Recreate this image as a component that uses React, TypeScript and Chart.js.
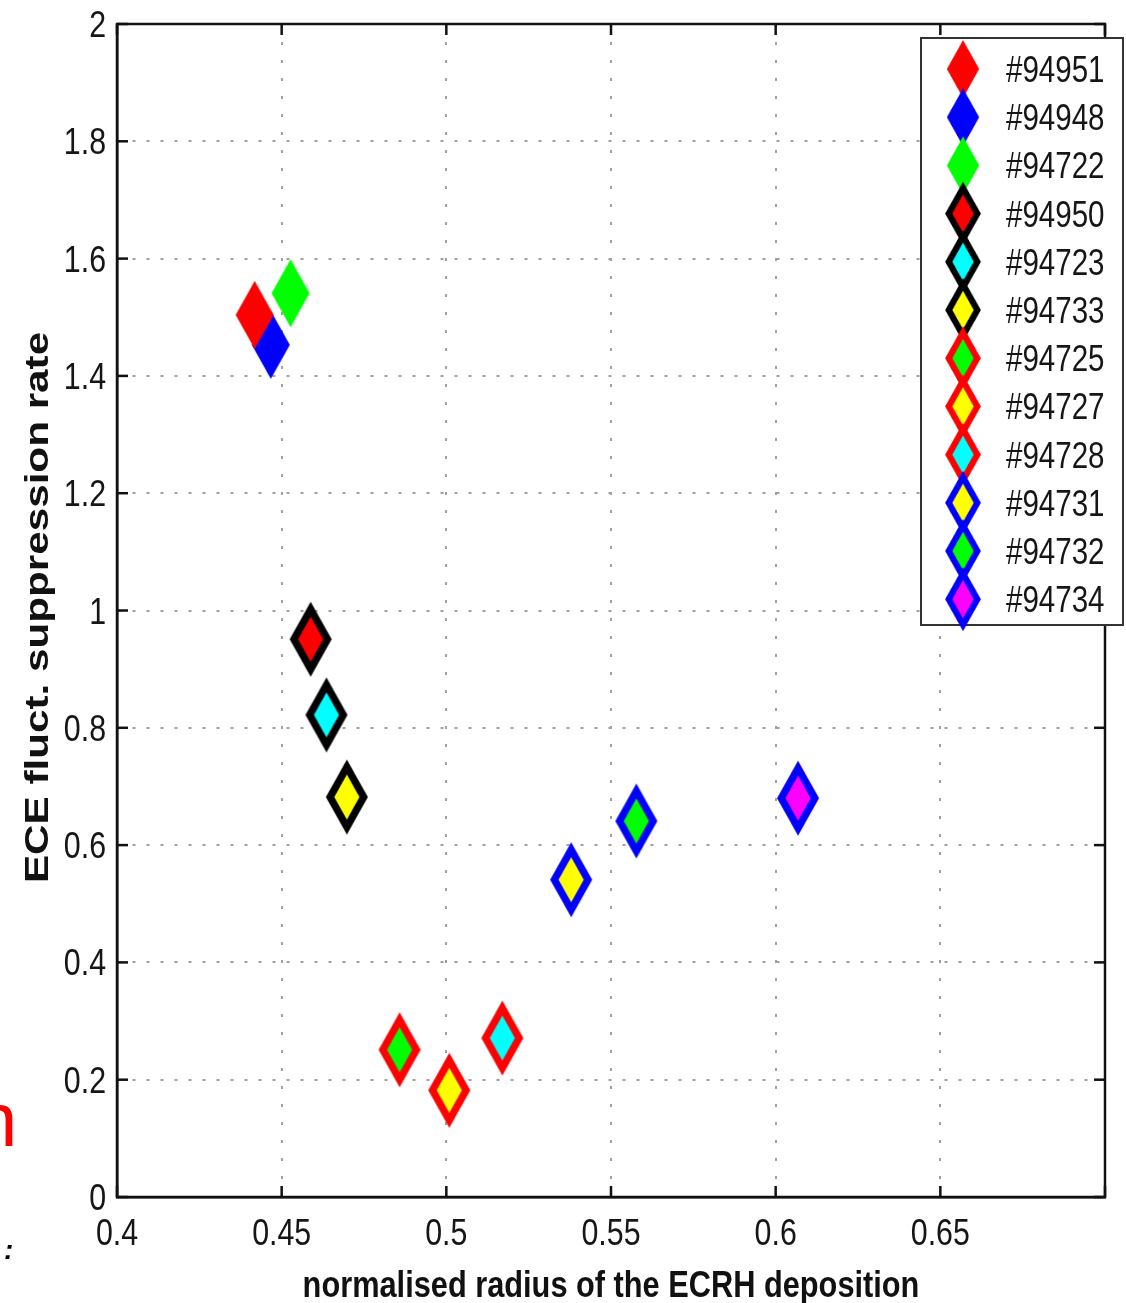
import { useEffect, useRef } from 'react';
import { Chart, registerables } from 'chart.js';

Chart.register(...registerables);

// ---------------- data ----------------
const shotLabels = ['#94951', '#94948', '#94722', '#94950', '#94723', '#94733', '#94725', '#94727', '#94728', '#94731', '#94732', '#94734'];
const radiusValues = [0.4418, 0.4467, 0.4527, 0.4588, 0.4636, 0.4698, 0.4858, 0.5009, 0.517, 0.5379, 0.5577, 0.6068];
const suppressionValues = [1.504, 1.453, 1.541, 0.951, 0.822, 0.682, 0.251, 0.182, 0.271, 0.541, 0.641, 0.68];
const markerFills = ['#ff0000', '#0000ff', '#00ff00', '#ff0000', '#00ffff', '#ffff00', '#00ff00', '#ffff00', '#00ffff', '#ffff00', '#00ff00', '#ff00ff'];
const markerEdges: (string | null)[] = [null, null, null, '#000000', '#000000', '#000000', '#ff0000', '#ff0000', '#ff0000', '#0000ff', '#0000ff', '#0000ff'];

const xTickValues = [0.4, 0.45, 0.5, 0.55, 0.6, 0.65, 0.7];
const xTickLabels = ['0.4', '0.45', '0.5', '0.55', '0.6', '0.65', ''];
const yTickValues = [0, 0.2, 0.4, 0.6, 0.8, 1, 1.2, 1.4, 1.6, 1.8, 2];
const yTickLabels = ['0', '0.2', '0.4', '0.6', '0.8', '1', '1.2', '1.4', '1.6', '1.8', '2'];

const xTitle = 'normalised radius of the ECRH deposition';
const yTitle = 'ECE fluct. suppression rate';

// ---------------- styles ----------------
const SANS = '"Liberation Sans", Arial, Helvetica, sans-serif';
const TEXT = '#161616';
const NARROW_SCALE = 0.82; // reference text is horizontally condensed

function makeDiamond(fill: string, edge: string | null): HTMLCanvasElement {
  const a = edge ? 21 : 19;
  const b = edge ? 37.5 : 34;
  const c = document.createElement('canvas');
  c.width = Math.ceil(2 * a + 2);
  c.height = Math.ceil(2 * b + 2);
  const ctx = c.getContext('2d')!;
  const cx = c.width / 2;
  const cy = c.height / 2;
  const path = (ha: number, hb: number) => {
    ctx.beginPath();
    ctx.moveTo(cx, cy - hb);
    ctx.lineTo(cx + ha, cy);
    ctx.lineTo(cx, cy + hb);
    ctx.lineTo(cx - ha, cy);
    ctx.closePath();
  };
  path(a, b);
  ctx.fillStyle = edge || fill;
  ctx.fill();
  if (edge) {
    path(a * 0.6, b * 0.6);
    ctx.fillStyle = fill;
    ctx.fill();
  }
  return c;
}

function drawScaledText(
  ctx: CanvasRenderingContext2D,
  text: string,
  x: number,
  y: number,
  font: string,
  align: CanvasTextAlign,
  sx: number,
  rotate = 0,
  color = TEXT,
) {
  ctx.save();
  ctx.translate(x, y);
  if (rotate) ctx.rotate(rotate);
  ctx.scale(sx, 1);
  ctx.font = font;
  ctx.fillStyle = color;
  ctx.textAlign = align;
  ctx.textBaseline = 'alphabetic';
  ctx.fillText(text, 0, 0);
  ctx.restore();
}

const framePlugin = {
  id: 'matlabFrame',
  afterDatasetsDraw(chart: any) {
    const { ctx, chartArea } = chart;
    const { left, right, top, bottom } = chartArea;
    const xs = chart.scales.x;
    const ys = chart.scales.y;
    ctx.save();
    ctx.strokeStyle = '#111';
    ctx.lineWidth = 2.5;
    ctx.strokeRect(left, top, right - left, bottom - top);
    const tl = 11;
    const line = (x1: number, y1: number, x2: number, y2: number) => {
      ctx.beginPath();
      ctx.moveTo(x1, y1);
      ctx.lineTo(x2, y2);
      ctx.stroke();
    };
    xs.ticks.forEach((t: any) => {
      const px = xs.getPixelForValue(t.value);
      line(px, bottom, px, bottom - tl);
      line(px, top, px, top + tl);
    });
    ys.ticks.forEach((t: any) => {
      const py = ys.getPixelForValue(t.value);
      line(left, py, left + tl, py);
      line(right, py, right - tl, py);
    });
    ctx.restore();

    // tick labels
    const tickFont = `37px ${SANS}`;
    xTickValues.forEach((v, i) => {
      drawScaledText(ctx, xTickLabels[i], xs.getPixelForValue(v), bottom + 48, tickFont, 'center', NARROW_SCALE);
    });
    yTickValues.forEach((v, i) => {
      drawScaledText(ctx, yTickLabels[i], left - 11, ys.getPixelForValue(v) + 13, tickFont, 'right', NARROW_SCALE);
    });

    // axis titles
    drawScaledText(ctx, xTitle, (left + right) / 2, 1297, `bold 37.5px ${SANS}`, 'center', NARROW_SCALE, 0, '#111');
    drawScaledText(ctx, yTitle, 48, (top + bottom) / 2 - 3, `bold 33.5px ${SANS}`, 'center', 1.26, -Math.PI / 2, '#111');
  },
};

const legendPlugin = {
  id: 'boxedLegend',
  afterDraw(chart: any) {
    const { ctx } = chart;
    const bx = 921, by = 38, bw = 202, bh = 587;
    ctx.save();
    ctx.fillStyle = '#ffffff';
    ctx.fillRect(bx, by, bw, bh);
    ctx.strokeStyle = '#333';
    ctx.lineWidth = 2;
    ctx.strokeRect(bx, by, bw, bh);
    ctx.restore();
    const s = 0.85;
    chart.data.datasets.forEach((ds: any, i: number) => {
      const cy = 69 + i * 48.2;
      const img = ds.pointStyle as HTMLCanvasElement;
      const w = img.width * s;
      const h = img.height * s;
      ctx.drawImage(img, 963 - w / 2, cy - h / 2, w, h);
      drawScaledText(ctx, ds.label, 1006, cy + 13, `36px ${SANS}`, 'left', NARROW_SCALE);
    });
  },
};

export default function App() {
  const canvasRef = useRef<HTMLCanvasElement | null>(null);

  useEffect(() => {
    if (!canvasRef.current) return;
    const datasets = shotLabels.map((label, i) => ({
      label,
      data: [{ x: radiusValues[i], y: suppressionValues[i] }],
      pointStyle: makeDiamond(markerFills[i], markerEdges[i]),
      pointRadius: 20,
      showLine: false,
    }));

    const chart = new Chart(canvasRef.current, {
      type: 'scatter',
      data: { datasets },
      plugins: [framePlugin, legendPlugin],
      options: {
        animation: false,
        responsive: false,
        maintainAspectRatio: false,
        layout: { padding: { top: 24, right: 20, left: 0, bottom: 0 } },
        plugins: {
          legend: { display: false },
          tooltip: { enabled: false },
        },
        scales: {
          x: {
            type: 'linear',
            min: 0.4,
            max: 0.7,
            afterFit: (scale: any) => {
              scale.height = 106;
              scale.paddingLeft = 0;
              scale.paddingRight = 0;
            },
            afterBuildTicks: (scale: any) => { scale.ticks = xTickValues.map((v) => ({ value: v })); },
            ticks: { display: false, autoSkip: false },
            grid: { color: '#a0a0a0', lineWidth: 2, drawTicks: false },
            border: { display: true, color: '#111', width: 2.5, dash: [3, 15] },
          },
          y: {
            type: 'linear',
            min: 0,
            max: 2,
            afterFit: (scale: any) => {
              scale.width = 117;
              scale.paddingTop = 0;
              scale.paddingBottom = 0;
            },
            afterBuildTicks: (scale: any) => { scale.ticks = yTickValues.map((v) => ({ value: v })); },
            ticks: { display: false, autoSkip: false },
            grid: { color: '#a0a0a0', lineWidth: 2, drawTicks: false },
            border: { display: true, color: '#111', width: 2.5, dash: [3, 11] },
          },
        },
      } as any,
    });
    return () => chart.destroy();
  }, []);

  return (
    <div style={{ position: 'absolute', left: 0, top: 0, width: 1126, height: 1303, overflow: 'hidden', background: '#fff' }}>
      <canvas ref={canvasRef} width={1126} height={1303} style={{ display: 'block', width: 1126, height: 1303 }} />
      <span style={{ position: 'absolute', left: -25, top: 1082, fontFamily: SANS, fontSize: 76, lineHeight: '76px', color: '#ff0000' }}>n</span>
      <span style={{ position: 'absolute', left: 4, top: 1236, fontFamily: SANS, fontSize: 28, lineHeight: '28px', fontStyle: 'italic', fontWeight: 'bold', color: '#000' }}>:</span>
    </div>
  );
}
